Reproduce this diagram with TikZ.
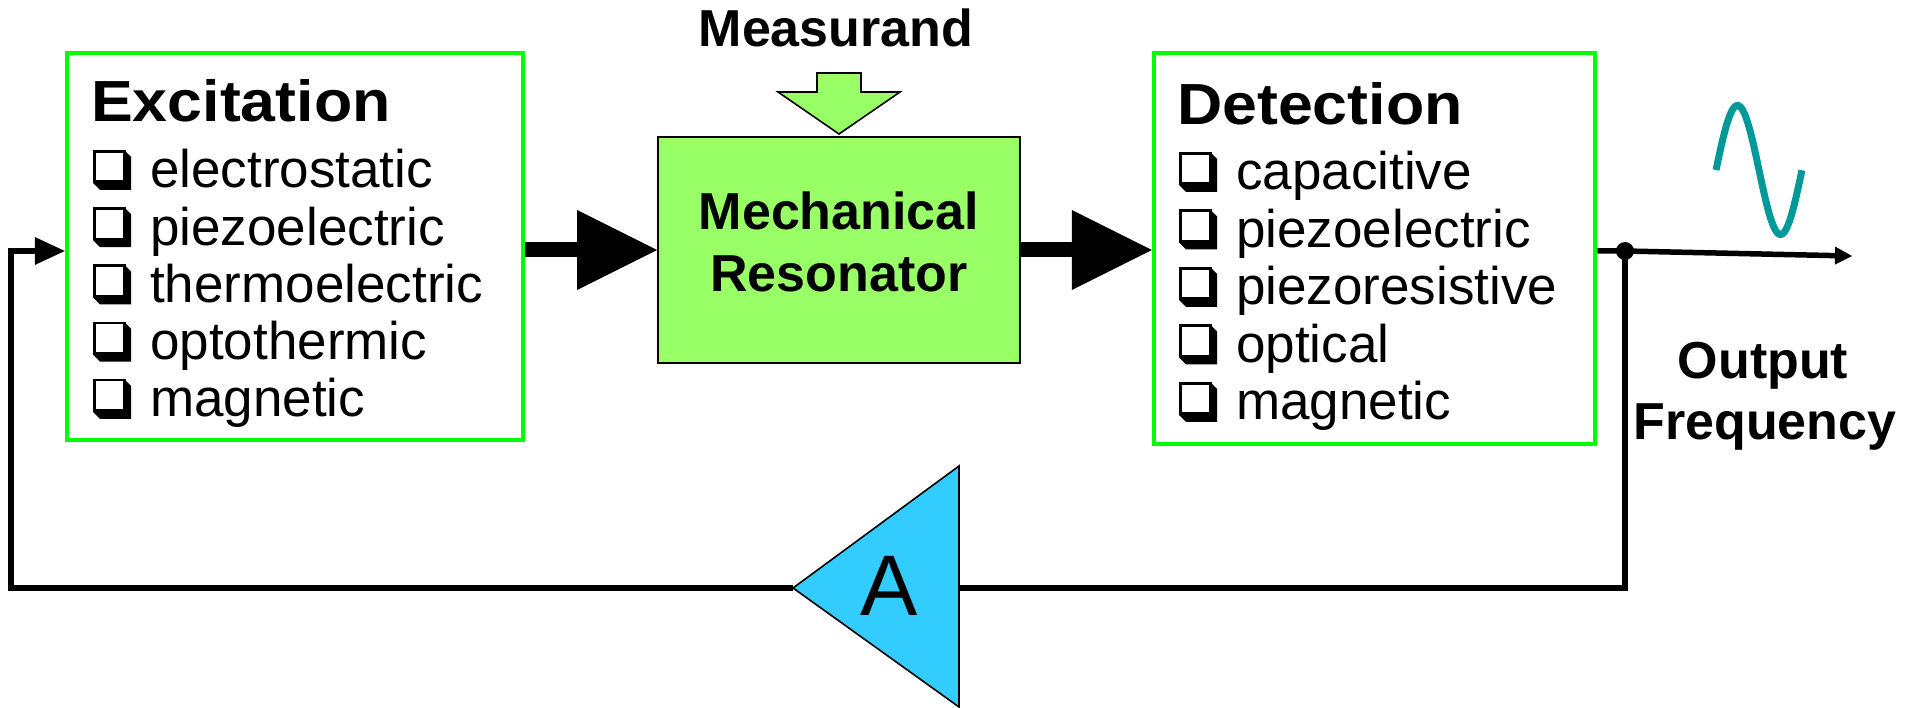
\documentclass[tikz,border=0pt]{standalone}
\usepackage{fontspec}
\setmainfont{Liberation Sans}
\newfontfamily\titlefont{Liberation Sans}[FakeStretch=1.08]
\usetikzlibrary{arrows.meta}
\definecolor{boxgreen}{RGB}{0,255,0}
\definecolor{resgreen}{RGB}{153,255,102}
\definecolor{ampblue}{RGB}{51,204,255}
\definecolor{wavecol}{RGB}{0,153,153}
\newcommand\mychk[2]{%
  \fill[black] (#1+31,#2-38) -- (#1+38,#2-31) -- (#1+38,#2+2) -- (#1+7,#2+2) -- (#1,#2-5) -- cycle;
  \filldraw[fill=white,draw=black,line width=2.6] (#1+1.3,#2-36.7) rectangle (#1+31.7,#2-6.3);}
\begin{document}
\begin{tikzpicture}[x=1pt,y=-1pt,
  greenbox/.style={draw=boxgreen,line width=4.5,fill=white,inner sep=0,minimum width=#1},
  titletext/.style={anchor=base west,inner sep=0,font=\titlefont\bfseries\fontsize{58}{60}\selectfont},
  listtext/.style={anchor=base west,inner sep=0,font=\fontsize{53}{60}\selectfont},
  boldtext/.style={anchor=base,inner sep=0,font=\bfseries\fontsize{52}{60}\selectfont},
  bigarrow/.style={line width=15,-{Triangle[length=80pt,width=80pt,line width=0pt]}},
  wire/.style={line width=5.5,line join=miter},
  thinedge/.style={draw=black,line width=1.6,line join=miter}]
\useasboundingbox (0,0) rectangle (1907,708);

% boxes
\node[greenbox=456pt,minimum height=387pt] (exc) at (295,246.5) {};
\node[greenbox=441pt,minimum height=391pt] (det) at (1374.5,248.5) {};
\node[thinedge,fill=resgreen,inner sep=0,minimum width=362pt,minimum height=226pt] (res) at (839,250) {};

% titles
\node[titletext] (exctitle) at (91,122) {Excitation};
\node[titletext] (dettitle) at (1177,125) {Detection};

% lists
\foreach \t [count=\i] in {electrostatic,piezoelectric,thermoelectric,optothermic,magnetic}{
  \pgfmathsetmacro\b{188+57.2*(\i-1)}
  \mychk{93}{\b}
  \node[listtext] (exi\i) at (150,\b) {\t};
}
\foreach \t [count=\i] in {capacitive,piezoelectric,piezoresistive,optical,magnetic}{
  \pgfmathsetmacro\b{190+57.5*(\i-1)}
  \mychk{1179}{\b}
  \node[listtext] (dei\i) at (1236,\b) {\t};
}

% resonator text
\node[boldtext] (mech) at (839,230) {Mechanical};
\node[boldtext] (reso) at (839,292) {Resonator};

% measurand
\node[boldtext] (meas) at (836,47) {Measurand};
\filldraw[thinedge,fill=resgreen] (817,73) -- (861,73) -- (861,92) -- (900,92) -- (839,134) -- (778,92) -- (817,92) -- cycle;

% big arrows
\draw[bigarrow] (exc.east |- res.west) -- (res.west);
\draw[bigarrow] (res.east) -- (res.east -| det.west);

% output
\coordinate (jn) at (1625,251);
\coordinate (outend) at (1852,256);
\draw[wire,-{Triangle[length=17pt,width=18pt,line width=0pt]}] (det.east |- jn) -- (jn) -- (outend);
\fill (jn) circle (9);
\draw[wavecol,line width=7] plot[domain=0:1,samples=80] ({1716+86*\x},{170-64.5*sin(360*\x)});
\node[boldtext] (outl1) at (1763,379) {Output};
\node[boldtext] (outl2) at (1765,439) {Frequency};

% amplifier
\coordinate (ampR) at (959,588);
\coordinate (ampL) at (793,588);
\coordinate (fbc) at (11,251);
\draw[wire] (jn) -- (jn |- ampR) -- (ampR);
\draw[wire,-{Triangle[length=30pt,width=28pt,line width=0pt]}] (ampL) -- (ampL -| fbc) -- (fbc) -- (exc.west |- fbc);
\filldraw[thinedge,fill=ampblue] (959,466) -- (959,707) -- (ampL) -- cycle;
\node[anchor=base,inner sep=0,font=\fontsize{86}{90}\selectfont] (amp) at (889,615) {A};
\end{tikzpicture}
\end{document}
